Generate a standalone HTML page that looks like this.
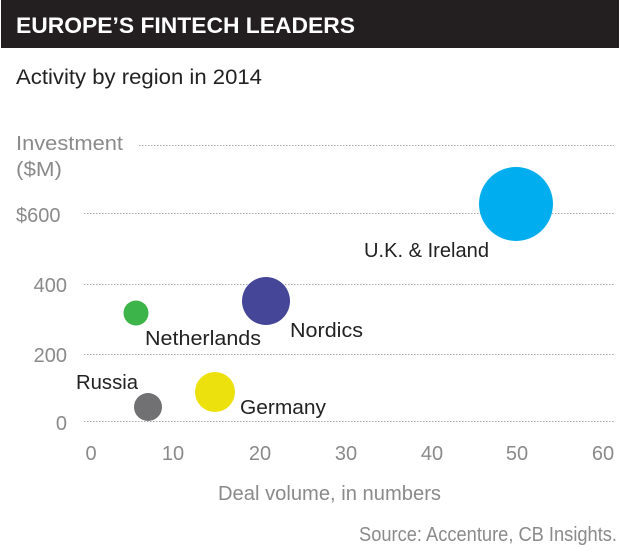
<!DOCTYPE html>
<html><head><meta charset="utf-8"><style>
html,body{margin:0;padding:0;background:#fff;}
svg{display:block;}
text{font-family:"Liberation Sans",sans-serif;}
</style></head><body>
<svg width="620" height="552" viewBox="0 0 620 552" xmlns="http://www.w3.org/2000/svg">
<rect x="1" y="0" width="618" height="48" fill="#231f20"/>
<text x="16" y="33" font-size="22" font-weight="bold" fill="#fff" textLength="339" lengthAdjust="spacingAndGlyphs">EUROPE’S FINTECH LEADERS</text>
<text x="16" y="84" font-size="21" fill="#222" textLength="246" lengthAdjust="spacingAndGlyphs">Activity by region in 2014</text>
<g stroke="#aaa" stroke-width="1" stroke-dasharray="1.5,1.5">
<line x1="139" y1="145.5" x2="614" y2="145.5"/>
<line x1="84" y1="213.5" x2="614" y2="213.5"/>
<line x1="84" y1="284.5" x2="614" y2="284.5"/>
<line x1="84" y1="354.5" x2="614" y2="354.5"/>
<line x1="84" y1="421.5" x2="614" y2="421.5"/>
</g>
<g fill="#8a8a8a" font-size="20">
<text x="16" y="150" textLength="107" lengthAdjust="spacingAndGlyphs">Investment</text>
<text x="16" y="176" textLength="46" lengthAdjust="spacingAndGlyphs">($M)</text>
<text x="16" y="222">$600</text>
<text x="67" y="292" text-anchor="end">400</text>
<text x="67" y="362" text-anchor="end">200</text>
<text x="67" y="430" text-anchor="end">0</text>
<g text-anchor="middle">
<text x="91" y="460">0</text>
<text x="173" y="460">10</text>
<text x="260" y="460">20</text>
<text x="346" y="460">30</text>
<text x="432" y="460">40</text>
<text x="517" y="460">50</text>
<text x="603" y="460">60</text>
</g>
<text x="218" y="500" textLength="223" lengthAdjust="spacingAndGlyphs">Deal volume, in numbers</text>
<text x="359" y="541" textLength="258" lengthAdjust="spacingAndGlyphs">Source: Accenture, CB Insights.</text>
</g>
<circle cx="516" cy="204" r="37" fill="#00adee"/>
<circle cx="266" cy="301" r="24" fill="#454698"/>
<circle cx="136" cy="313" r="12.5" fill="#3cb44a"/>
<circle cx="215" cy="392" r="20" fill="#ede10d"/>
<circle cx="148" cy="407" r="14" fill="#717174"/>
<g fill="#222" font-size="20">
<text x="364" y="257" textLength="125" lengthAdjust="spacingAndGlyphs">U.K. &amp; Ireland</text>
<text x="290" y="337" textLength="73" lengthAdjust="spacingAndGlyphs">Nordics</text>
<text x="145" y="345" textLength="116" lengthAdjust="spacingAndGlyphs">Netherlands</text>
<text x="76" y="389" textLength="62" lengthAdjust="spacingAndGlyphs">Russia</text>
<text x="240" y="414" textLength="86" lengthAdjust="spacingAndGlyphs">Germany</text>
</g>
</svg>
</body></html>
